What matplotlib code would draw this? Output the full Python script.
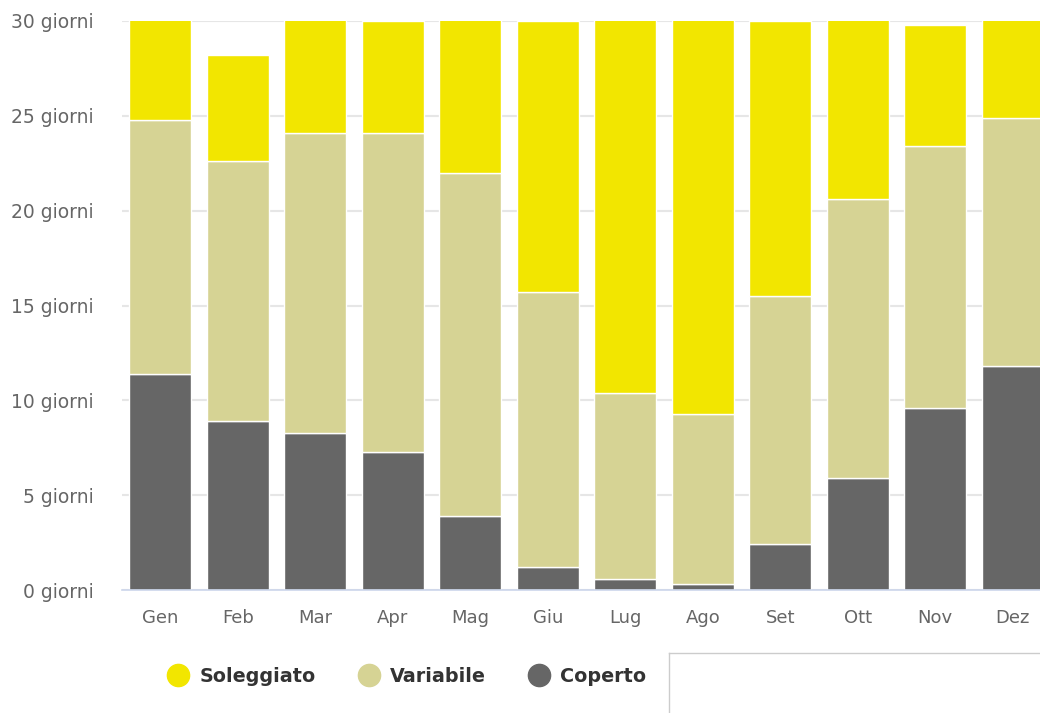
import matplotlib
matplotlib.use("Agg")
import matplotlib.pyplot as plt
from matplotlib.lines import Line2D
import numpy as np

mesi = ["Gen", "Feb", "Mar", "Apr", "Mag", "Giu", "Lug", "Ago", "Set", "Ott", "Nov", "Dez"]
coperto = [11.4, 8.9, 8.3, 7.3, 3.9, 1.2, 0.6, 0.3, 2.4, 5.9, 9.6, 11.8]
variabile = [13.4, 13.7, 15.8, 16.8, 18.1, 14.5, 9.8, 9.0, 13.1, 14.7, 13.8, 13.1]
soleggiato = [6.2, 5.6, 6.9, 5.9, 9.0, 14.3, 20.6, 21.7, 14.5, 10.4, 6.4, 6.1]
y_ticks = [0, 5, 10, 15, 20, 25, 30]

col_sole = "#f2e600"
col_var = "#d6d394"
col_cop = "#666666"

W, H = 1040, 713
fig = plt.figure(figsize=(W / 100, H / 100), dpi=100)
plot_left, plot_right = 121.5, 121.5 + 12 * 77.5
plot_top, plot_bottom = 21, 590
ax = fig.add_axes([plot_left / W, 1 - plot_bottom / H,
                   (plot_right - plot_left) / W, (plot_bottom - plot_top) / H])

x = np.arange(len(mesi))
cop = np.array(coperto)
var = np.array(variabile)
sole = np.array(soleggiato)
kw = dict(width=0.8, edgecolor="white", linewidth=1.0, zorder=3)
ax.bar(x, cop, color=col_cop, **kw)
ax.bar(x, var, bottom=cop, color=col_var, **kw)
ax.bar(x, sole, bottom=cop + var, color=col_sole, **kw)

ax.set_xlim(-0.5, len(mesi) - 0.5)
ax.set_ylim(0, 30)
ax.set_yticks(y_ticks)
ax.set_yticklabels([f"{v} giorni" for v in y_ticks])
ax.set_xticks(x)
ax.set_xticklabels(mesi)
ax.grid(axis="y", color="#e6e6e6", linewidth=1.5, zorder=0)
ax.set_axisbelow(True)
for s in ["top", "right", "left"]:
    ax.spines[s].set_visible(False)
ax.spines["bottom"].set_color("#ccd6eb")
ax.spines["bottom"].set_linewidth(1.2)
ax.spines["bottom"].set_zorder(4)
ax.tick_params(axis="y", length=0, pad=20, labelsize=13.5, labelcolor="#666666")
ax.tick_params(axis="x", length=0, pad=14, labelsize=13, labelcolor="#666666")

handles = [Line2D([], [], marker="o", linestyle="", markersize=16, color=c)
           for c in (col_sole, col_var, col_cop)]
leg = fig.legend(handles, ["Soleggiato", "Variabile", "Coperto"], ncol=3,
                 loc="center left", bbox_to_anchor=(142 / W, 1 - 676 / H),
                 frameon=False, handletextpad=0.1, columnspacing=1.78,
                 prop={"weight": "bold", "size": 13.8})
for t in leg.get_texts():
    t.set_color("#333333")

# framed panel at bottom right
fig.add_artist(Line2D([669 / W, 669 / W], [0, 1 - 653 / H], color="#cccccc", linewidth=1.0))
fig.add_artist(Line2D([669 / W, 1.0], [1 - 653 / H, 1 - 653 / H], color="#cccccc", linewidth=1.0))

fig.savefig("out.png", dpi=100)
